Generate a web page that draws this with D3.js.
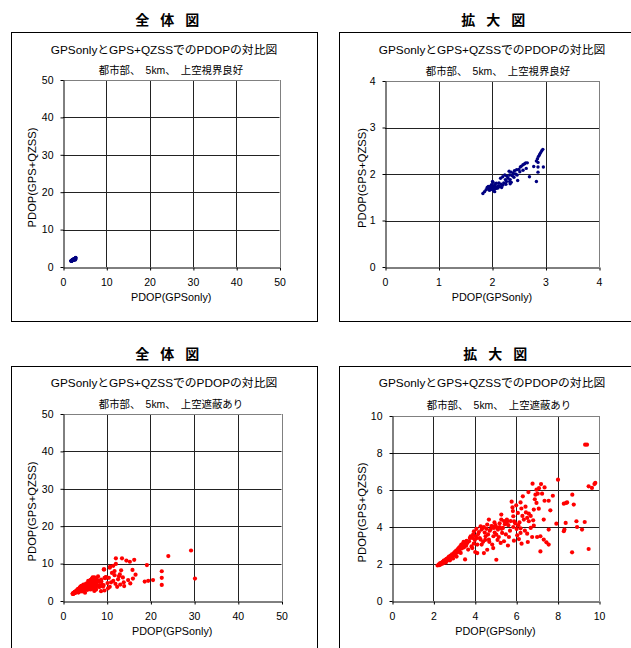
<!DOCTYPE html>
<html>
<head>
<meta charset="utf-8">
<script src="https://cdn.jsdelivr.net/npm/d3@7"></script>
<style>
body{margin:0;background:#fff}
text{font-family:"Liberation Sans","Noto Sans CJK JP",sans-serif;fill:#000}
</style>
</head>
<body>
<div id="chart"></div>
<script>
// 目盛り
const fullTicks = [0, 10, 20, 30, 40, 50]
const zoomTicksGood = [0, 1, 2, 3, 4]
const zoomTicksBlock = [0, 2, 4, 6, 8, 10]

// 上空視界良好 [GPSonly, GPS+QZSS]
const goodPts = [
  [2.95,2.53],[2.93,2.50],[2.91,2.46],[2.89,2.42],[2.87,2.38],[2.85,2.33],[2.83,2.28],[2.86,2.25],
  [2.96,2.15],[2.86,2.15],[2.78,2.16],[2.86,2.04],[2.83,1.84],[2.70,1.94],[2.66,2.24],[2.63,2.24],
  [2.61,2.22],[2.58,2.20],[2.55,2.17],[2.53,2.15],[2.50,2.10],[2.46,2.09],[2.42,2.07],[2.48,1.86],
  [2.40,2.01],[2.36,2.04],[2.33,1.98],[2.32,2.06],[2.33,1.84],[2.34,1.79],[2.34,1.88],[2.24,1.98],
  [2.20,1.94],[2.16,1.91],[2.13,1.81],[2.08,1.80],[2.05,1.77],[2.02,1.82],[2.01,1.84],[2.01,1.74],
  [1.96,1.73],[1.93,1.69],[1.89,1.66],[1.86,1.62],[1.83,1.58],[2.02,1.66],[2.08,1.69],[2.14,1.73],
  [2.20,1.76],[2.27,1.84],[2.30,1.91],[1.97,1.66],[1.93,1.73],[1.95,1.70],[1.98,1.68],[2.00,1.70],
  [2.03,1.71],[2.05,1.68],[2.10,1.72],[2.12,1.75],[2.17,1.78],[2.22,1.81],[2.25,1.88],[2.28,1.95],
  [2.38,1.96],[2.44,2.00],[2.47,1.98],[1.91,1.71],[1.99,1.77],[2.06,1.74],[2.11,1.70],[2.03,1.64],
  [1.95,1.65],[2.18,1.71],[2.26,1.78],[2.36,1.82],[2.41,1.93],[2.52,2.05],[2.58,2.08],[2.64,2.12],
  [2.05,1.62]
]

// 上空遮蔽あり [GPSonly, GPS+QZSS]
const blockPts = [
  [2.20,1.92],[2.25,1.96],[2.28,2.00],[2.30,1.94],[2.33,2.05],[2.36,1.98],[2.40,2.08],[2.42,2.02],
  [2.45,2.12],[2.48,2.04],[2.50,2.18],[2.52,2.10],[2.55,2.15],[2.58,2.22],[2.60,2.08],[2.63,2.28],
  [2.66,2.18],[2.70,2.32],[2.72,2.24],[2.75,2.40],[2.78,2.30],[2.80,2.20],[2.83,2.45],[2.86,2.35],
  [2.90,2.52],[2.92,2.42],[2.95,2.30],[2.98,2.58],[3.00,2.48],[3.03,2.65],[3.06,2.55],[3.10,2.72],
  [3.12,2.40],[3.15,2.62],[3.18,2.80],[3.20,2.70],[3.24,2.88],[3.27,2.77],[3.30,2.95],[3.32,2.60],
  [3.35,3.05],[3.38,2.85],[3.40,2.95],[3.43,3.10],[3.46,3.20],[3.48,2.90],[3.50,3.05],[3.53,2.25],
  [3.55,3.15],[3.58,2.99],[3.60,3.25],[3.64,3.14],[3.68,2.78],[3.72,3.23],[3.76,3.40],[3.80,3.50],
  [3.84,2.95],[3.88,3.41],[3.88,2.86],[3.92,3.60],[3.96,3.77],[4.00,3.30],[4.02,2.65],[4.04,3.50],
  [4.08,3.90],[4.12,3.05],[4.12,2.59],[4.16,3.62],[4.20,3.73],[4.24,3.40],[4.28,4.04],[4.28,3.32],
  [4.33,3.86],[4.33,3.05],[4.38,3.95],[4.44,4.00],[4.44,2.59],[4.48,3.70],[4.52,3.50],[4.56,3.90],
  [4.60,4.13],[4.60,2.77],[4.64,3.60],[4.68,4.40],[4.68,3.32],[4.72,3.80],[4.76,3.86],[4.80,4.05],
  [4.84,4.04],[4.84,3.05],[4.89,2.86],[4.92,3.95],[4.96,3.70],[5.00,4.10],[5.04,3.59],[5.04,2.23],
  [5.08,3.95],[5.12,3.86],[5.16,3.46],[5.20,4.00],[5.25,3.14],[5.28,4.67],[5.28,4.40],[5.32,3.68],
  [5.36,3.95],[5.41,4.32],[5.41,3.23],[5.45,4.15],[5.52,4.22],[5.57,4.31],[5.60,3.00],[5.62,4.10],
  [5.65,3.46],[5.70,3.80],[5.73,4.32],[5.78,5.37],[5.82,5.06],[5.84,4.86],[5.86,4.58],[5.86,4.00],
  [5.89,3.26],[5.95,4.20],[6.00,5.17],[6.02,3.89],[6.05,3.55],[6.08,4.76],[6.13,3.35],[6.16,4.25],
  [6.21,5.33],[6.21,3.93],[6.21,3.68],[6.26,3.10],[6.32,5.66],[6.37,4.40],[6.42,3.80],[6.47,4.79],
  [6.53,4.49],[6.53,3.64],[6.56,3.19],[6.59,5.89],[6.61,4.72],[6.61,4.31],[6.70,3.95],[6.77,3.46],
  [6.79,6.34],[6.82,4.36],[6.85,4.94],[6.85,4.07],[6.93,5.75],[6.98,6.02],[6.98,5.30],[7.01,3.46],
  [7.04,5.80],[7.09,4.99],[7.17,3.50],[7.17,2.68],[7.20,6.32],[7.33,4.40],[7.33,3.32],[7.37,6.14],
  [7.37,5.42],[7.46,3.17],[7.57,5.42],[7.57,3.86],[7.57,3.05],[7.65,4.90],[7.77,5.69],[7.94,4.18],
  [8.02,6.56],[8.30,5.26],[8.30,3.77],[8.33,3.86],[8.39,4.22],[8.41,5.30],[8.46,5.33],[8.70,2.63],
  [8.71,5.75],[8.78,5.21],[8.91,4.31],[8.94,4.00],[9.18,3.86],[9.31,4.27],[9.33,8.45],[9.42,8.45],
  [9.50,6.20],[9.50,2.81],[9.66,6.11],[9.78,6.32],[9.82,6.38],
  [4.50,3.30],[4.70,3.20],[4.90,3.50],[5.10,3.30],[5.30,3.90],[5.50,3.60],[5.90,4.30],[6.10,4.10],
  [5.20,4.20],[4.95,4.25],[4.40,3.20],[4.10,3.40],[3.95,3.10],[5.55,4.40],[6.30,4.60],[6.45,5.10],
  [6.90,5.50],[6.25,5.00],[7.10,6.10],[7.25,5.80],[6.70,4.60],
  // 10以上
  [29.3,13.5],[30.2,6.0],[24.1,12.0],[22.6,7.95],[22.6,6.2],[22.6,4.3],[20.6,5.6],[19.5,5.4],
  [18.7,5.2],[19.2,9.6],[16.3,11.0],[15.3,10.5],[14.5,10.8],[13.5,11.4],[12.1,11.4],[15.9,8.3],
  [16.6,7.05],[16.0,6.0],[14.9,5.6],[15.4,4.7],[14.0,4.0],[13.1,4.4],[12.4,3.8],[10.7,3.8],
  [10.3,3.4],[10.7,8.9],[11.5,9.4],[12.1,9.9],[11.8,6.9],[13.0,7.1],[13.7,6.3],[11.5,5.4],
  [12.6,5.8],[13.9,5.0],[10.5,6.2],[11.0,5.0],[12.0,4.6],[10.2,4.8],[11.2,7.5],[12.8,6.6],
  [10.8,9.2],[11.8,8.0],[13.3,8.2]
]

const TITLE = 'GPSonlyとGPS+QZSSでのPDOPの対比図'
const SUB_GOOD = '都市部、　5km、　上空視界良好'
const SUB_BLOCK = '都市部、　5km、　上空遮蔽あり'

let svg = d3.select('#chart').append('svg')
  .attr('width', 631)
  .attr('height', 648)

let clipId = 0

// 1枚分の散布図
function panel(o){
  let g = svg.append('g')

  // 見出し
  g.append('text')
    .attr('x', o.head[0]).attr('y', o.head[1])
    .attr('text-anchor', 'middle').attr('dominant-baseline', 'central')
    .style('font-size', '14px').style('font-weight', 'bold').style('letter-spacing', '3.5px')
    .text(o.headText)

  // 外枠
  g.append('rect')
    .attr('x', o.frame[0] + 0.5).attr('y', o.frame[1] + 0.5)
    .attr('width', o.frame[2]).attr('height', o.frame[3])
    .attr('fill', 'none').attr('stroke', '#000')

  let x = d3.scaleLinear().domain([0, o.max]).range([o.l, o.r])
  let y = d3.scaleLinear().domain([0, o.max]).range([o.b, o.t])

  // グリッド
  g.append('g').selectAll('line').data(o.ticks.slice(1)).join('line')
    .attr('x1', d => Math.round(x(d)) + 0.5).attr('x2', d => Math.round(x(d)) + 0.5)
    .attr('y1', o.t).attr('y2', o.b)
    .attr('stroke', (d, i) => i == o.ticks.length - 2 ? '#808080' : '#222')
  g.append('g').selectAll('line').data(o.ticks.slice(1)).join('line')
    .attr('y1', d => Math.round(y(d)) + 0.5).attr('y2', d => Math.round(y(d)) + 0.5)
    .attr('x1', o.l).attr('x2', o.r)
    .attr('stroke', (d, i) => i == o.ticks.length - 2 ? '#808080' : '#222')

  // 軸
  let ax = g.append('g').attr('transform', `translate(0,${Math.round(o.b) + 0.5})`)
    .call(d3.axisBottom(x).tickValues(o.ticks).tickFormat(d => d).tickSize(3).tickSizeOuter(0).tickPadding(8))
  let ay = g.append('g').attr('transform', `translate(${Math.round(o.l) + 0.5},0)`)
    .call(d3.axisLeft(y).tickValues(o.ticks).tickFormat(d => d).tickSize(3).tickSizeOuter(0).tickPadding(7))
  for (let a of [ax, ay]) {
    a.select('.domain').attr('stroke', '#000')
    a.selectAll('.tick line').attr('stroke', '#000')
    a.selectAll('.tick text').style('font-size', '10.5px').attr('font-family', null)
  }
  ax.selectAll('.tick line').attr('x1', 0.5).attr('x2', 0.5)

  // タイトル
  g.append('text')
    .attr('x', o.titlePos[0]).attr('y', o.titlePos[1])
    .attr('text-anchor', 'middle').attr('dominant-baseline', 'central')
    .style('font-size', '11.8px')
    .text(TITLE)
  g.append('text')
    .attr('x', o.subPos[0]).attr('y', o.subPos[1])
    .attr('text-anchor', 'middle').attr('dominant-baseline', 'central')
    .style('font-size', '10.4px')
    .text(o.sub)
  g.append('text')
    .attr('x', (o.l + o.r) / 2).attr('y', o.b + 30)
    .attr('text-anchor', 'middle').attr('dominant-baseline', 'central')
    .style('font-size', '10.8px')
    .text('PDOP(GPSonly)')
  g.append('text')
    .attr('transform', `translate(${o.ylabX},${(o.t + o.b) / 2 + 4}) rotate(-90)`)
    .attr('text-anchor', 'middle').attr('dominant-baseline', 'central')
    .style('font-size', '11.2px')
    .text('PDOP(GPS+QZSS)')

  // 点
  clipId++
  svg.append('clipPath').attr('id', 'c' + clipId)
    .append('rect').attr('x', o.l).attr('y', o.t).attr('width', o.r - o.l).attr('height', o.b - o.t)
  g.append('g').attr('clip-path', `url(#c${clipId})`)
    .selectAll('circle').data(o.data).join('circle')
    .attr('cx', d => x(d[0]))
    .attr('cy', d => y(d[1]))
    .attr('r', o.r0)
    .attr('fill', o.color)
}

panel({
  headText: '全 体 図', head: [169, 20], frame: [11, 32, 306, 289],
  l: 63, r: 279.5, t: 80, b: 267, max: 50, ticks: fullTicks,
  titlePos: [164, 50], subPos: [171, 70], sub: SUB_GOOD, ylabX: 32,
  data: goodPts, color: '#000080', r0: 1.7
})
panel({
  headText: '拡 大 図', head: [495, 20], frame: [339, 32, 300, 289],
  l: 385, r: 599, t: 81, b: 267, max: 4, ticks: zoomTicksGood,
  titlePos: [492, 50], subPos: [498, 71], sub: SUB_GOOD, ylabX: 362,
  data: goodPts, color: '#000080', r0: 1.7
})
panel({
  headText: '全 体 図', head: [169, 354], frame: [11, 366, 306, 300],
  l: 63, r: 281.5, t: 414, b: 601, max: 50, ticks: fullTicks,
  titlePos: [164, 383], subPos: [171, 404], sub: SUB_BLOCK, ylabX: 32,
  data: blockPts, color: '#ff0000', r0: 2.1
})
panel({
  headText: '拡 大 図', head: [497, 354], frame: [339, 366, 300, 300],
  l: 392, r: 599, t: 416, b: 601, max: 10, ticks: zoomTicksBlock,
  titlePos: [492, 383], subPos: [499, 405], sub: SUB_BLOCK, ylabX: 362,
  data: blockPts, color: '#ff0000', r0: 2.1
})
</script>
</body>
</html>
